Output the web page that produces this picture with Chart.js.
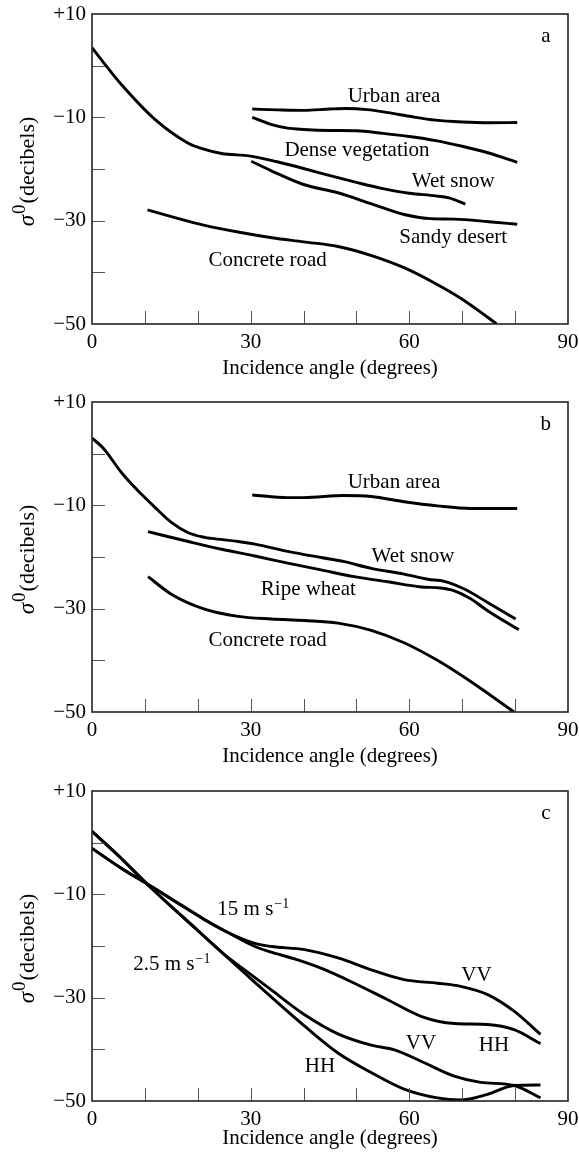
<!DOCTYPE html>
<html>
<head>
<meta charset="utf-8">
<title>Radar backscatter vs incidence angle</title>
<script src="https://cdn.jsdelivr.net/npm/chart.js@4.4.1/dist/chart.umd.min.js"></script>
<style>
    html, body { margin: 0; padding: 0; background: #fff; overflow: hidden; }
    .panel { position: absolute; left: 0; width: 579px; height: 388px; }
</style>
</head>
<body>
<div class="panel" style="top:0px"><canvas id="panelA"></canvas></div>
<div class="panel" style="top:388px"><canvas id="panelB"></canvas></div>
<div class="panel" style="top:777px"><canvas id="panelC"></canvas></div>

<script>
// Backscatter coefficient (dB) against incidence angle (degrees)

// ---- panel a ----
const aWetSnowAng  = [0, 2.5, 5.6, 11.9, 18.2, 21.3, 24.5, 30, 35, 40, 45, 50, 55, 60, 65, 67.5, 70.6];
const aWetSnowDb   = [3.5, 0.2, -3.7, -10.4, -15.0, -16.2, -17.0, -17.5, -18.6, -19.9, -21.3, -22.6, -23.8, -24.7, -25.2, -25.6, -26.8];
const aUrbanAng    = [30.3, 35, 40, 45, 48, 52, 56, 60, 65, 70, 75, 80.4];
const aUrbanDb     = [-8.4, -8.55, -8.65, -8.4, -8.3, -8.5, -9.1, -9.8, -10.55, -10.9, -11.05, -11.0];
const aVegAng      = [30.3, 34, 37, 40, 45, 50, 55, 60, 65, 70, 75, 80.4];
const aVegDb       = [-10.0, -11.4, -12.1, -12.35, -12.55, -12.6, -13.1, -13.7, -14.5, -15.6, -16.9, -18.7];
const aDesertAng   = [30.1, 34, 40, 46.5, 53, 59, 64, 68.5, 75, 80.4];
const aDesertDb    = [-18.5, -20.4, -23.0, -24.6, -26.8, -28.8, -29.6, -29.7, -30.2, -30.7];
const aRoadAng     = [10.5, 15, 21.3, 27.6, 34, 40, 46.5, 53, 59, 65, 70, 74.8, 76.5];
const aRoadDb      = [-27.9, -29.2, -30.9, -32.2, -33.3, -34.1, -35.0, -36.8, -39.1, -42.2, -45.2, -48.7, -50];

// ---- panel b ----
const bWetSnowAng  = [0, 2.1, 5.6, 8.7, 11.9, 15, 18.2, 21.3, 22.6, 27.6, 30.8, 37, 43.3, 47.7, 52.8, 59, 63.5, 66.6, 70.4, 74.8, 80.1];
const bWetSnowDb   = [3.0, 1.1, -3.7, -7.2, -10.4, -13.3, -15.3, -16.2, -16.4, -17.0, -17.5, -18.9, -20.1, -20.9, -22.2, -23.3, -24.3, -24.7, -26.2, -28.8, -32.0];
const bWheatAng    = [10.6, 18.2, 24.5, 30.8, 37, 43.3, 49.6, 55.9, 62.2, 65.9, 68.4, 71.6, 74.8, 80.7];
const bWheatDb     = [-15.1, -17.0, -18.5, -19.8, -21.2, -22.5, -23.8, -24.8, -25.8, -26.0, -26.5, -28.1, -30.4, -34.1];
const bUrbanAng    = [30.3, 37, 40, 47.7, 52.8, 59, 65.3, 71.6, 80.4];
const bUrbanDb     = [-8.0, -8.5, -8.5, -8.1, -8.3, -9.3, -10.1, -10.6, -10.6];
const bRoadAng     = [10.6, 15, 21.3, 27.6, 33.9, 40.2, 46.5, 52.8, 59, 65.3, 71.6, 79.8];
const bRoadDb      = [-23.8, -27.2, -30.1, -31.5, -32.0, -32.3, -32.8, -34.2, -36.6, -40.0, -44.1, -50.0];

// ---- panel c (sea surface, two wind speeds) ----
const cHighVVAng   = [0, 5.6, 10.3, 15, 21.3, 25.7, 30.8, 33.9, 40.2, 46.5, 52.8, 59, 65.3, 69.7, 74.8, 79.8, 84.8];
const cHighVVDb    = [-1.1, -5.0, -7.9, -10.9, -14.9, -17.4, -19.5, -20.1, -20.7, -22.3, -24.6, -26.5, -27.2, -27.8, -29.4, -32.6, -37.1];
const cHighHHAng   = [0, 5.6, 10.3, 15, 21.3, 25.7, 30.8, 33.9, 38.3, 43.3, 49.6, 55.9, 62.2, 68.5, 74.8, 79.8, 84.8];
const cHighHHDb    = [-1.1, -5.0, -7.9, -10.9, -14.9, -17.4, -20.1, -21.2, -22.5, -24.3, -27.2, -30.4, -33.6, -35.0, -35.2, -36.2, -38.9];
const cLowVVAng    = [0, 5.6, 10.3, 20, 25, 30, 33.9, 40.2, 46.5, 52.8, 57.2, 62.2, 68.5, 73.5, 79.8, 84.8];
const cLowVVDb     = [2.2, -3.1, -7.9, -17.0, -21.6, -25.5, -28.5, -33.3, -37.0, -39.2, -40.1, -42.3, -45.2, -46.4, -47.0, -49.4];
const cLowHHAng    = [0, 5.6, 10.3, 20, 30, 40.2, 46.5, 52.8, 59, 65.3, 69.7, 74.8, 79.8, 84.8];
const cLowHHDb     = [2.2, -3.1, -7.9, -17.0, -26.3, -35.5, -40.7, -44.5, -47.7, -49.4, -49.8, -48.7, -47.0, -46.9];

// curve labels, placed in axis units (angle, dB) at the text baseline
const notesA = [
    { text: 'Urban area', x: 57.1, y: -7.0 },
    { text: 'Dense vegetation', x: 50.1, y: -17.5 },
    { text: 'Wet snow', x: 68.3, y: -23.4 },
    { text: 'Sandy desert', x: 68.3, y: -34.4 },
    { text: 'Concrete road', x: 33.2, y: -38.7 }
];
const notesB = [
    { text: 'Urban area', x: 57.1, y: -6.7 },
    { text: 'Wet snow', x: 60.7, y: -21.0 },
    { text: 'Ripe wheat', x: 40.9, y: -27.3 },
    { text: 'Concrete road', x: 33.2, y: -37.3 }
];
const notesC = [
    { text: '15 m s', sup: '−1', x: 23.7, y: -14.0, align: 'left' },
    { text: '2.5 m s', sup: '−1', x: 7.8, y: -24.7, align: 'left' },
    { text: 'VV', x: 72.7, y: -26.7 },
    { text: 'HH', x: 76.0, y: -40.3 },
    { text: 'VV', x: 62.2, y: -40.0 },
    { text: 'HH', x: 43.1, y: -44.3 }
];

const SERIF = '"Liberation Serif", "Times New Roman", serif';
Chart.defaults.font.family = SERIF;
Chart.defaults.color = '#000';

function curve(angles, values) {
    return {
        data: angles.map((a, i) => ({ x: a, y: values[i] })),
        borderColor: '#000',
        borderWidth: 2.9,
        pointRadius: 0,
        fill: false,
        cubicInterpolationMode: 'monotone'
    };
}

// frame, inward tick marks, axis titles and curve labels
const panelDecor = {
    id: 'panelDecor',
    afterDatasetsDraw(chart, args, opts) {
        const { ctx, chartArea: a, scales: { x, y } } = chart;
        ctx.save();

        ctx.strokeStyle = '#555';
        ctx.lineWidth = 1;
        ctx.beginPath();
        for (let v = 10; v < 90; v += 10) {
            const px = Math.round(x.getPixelForValue(v)) + 0.5;
            ctx.moveTo(px, a.bottom);
            ctx.lineTo(px, a.bottom - 13);
        }
        for (let v = -40; v < 10; v += 10) {
            const py = Math.round(y.getPixelForValue(v)) + 0.5;
            ctx.moveTo(a.left, py);
            ctx.lineTo(a.left + 13, py);
        }
        ctx.stroke();

        ctx.strokeStyle = '#222';
        ctx.lineWidth = 1.6;
        ctx.strokeRect(a.left, a.top, a.right - a.left, a.bottom - a.top);

        ctx.fillStyle = '#000';
        ctx.textBaseline = 'alphabetic';

        // curve labels
        (opts.notes || []).forEach(n => {
            const px = x.getPixelForValue(n.x);
            const py = y.getPixelForValue(n.y);
            ctx.font = '21px ' + SERIF;
            const w = ctx.measureText(n.text).width;
            let supW = 0;
            if (n.sup) {
                ctx.font = '14px ' + SERIF;
                supW = ctx.measureText(n.sup).width;
            }
            const left = n.align === 'left' ? px : px - (w + supW) / 2;
            ctx.font = '21px ' + SERIF;
            ctx.textAlign = 'left';
            ctx.fillText(n.text, left, py);
            if (n.sup) {
                ctx.font = '14px ' + SERIF;
                ctx.fillText(n.sup, left + w + 1, py - 7);
            }
        });

        // panel letter
        ctx.font = '21px ' + SERIF;
        ctx.textAlign = 'center';
        ctx.fillText(opts.letter, x.getPixelForValue(85.8), y.getPixelForValue(4.5));

        // x title
        ctx.fillText('Incidence angle (degrees)', (a.left + a.right) / 2, a.bottom + opts.titleGap);

        // y title: sigma with superscript 0, rotated
        const parts = [
            { t: 'σ', font: 'italic 23px ' + SERIF, dy: 0 },
            { t: '0', font: '19px ' + SERIF, dy: -9 },
            { t: '(decibels)', font: '22px ' + SERIF, dy: 0 }
        ];
        let total = 0;
        parts.forEach(p => { ctx.font = p.font; p.w = ctx.measureText(p.t).width; total += p.w + 1; });
        ctx.translate(34, (a.top + a.bottom) / 2 + 2);
        ctx.rotate(-Math.PI / 2);
        ctx.textAlign = 'left';
        let cx = -total / 2;
        parts.forEach(p => {
            ctx.font = p.font;
            ctx.fillText(p.t, cx, p.dy);
            cx += p.w + 1;
        });

        ctx.restore();
    }
};

function makePanel(canvasId, datasets, notes, letter, titleGap) {
    const ctx = document.getElementById(canvasId).getContext('2d');
    return new Chart(ctx, {
        type: 'line',
        data: { datasets: datasets },
        options: {
            responsive: true,
            maintainAspectRatio: false,
            animation: false,
            devicePixelRatio: 1,
            layout: { padding: { top: 14, right: 11, bottom: 0, left: 0 } },
            plugins: {
                legend: { display: false },
                tooltip: { enabled: false },
                panelDecor: { notes: notes, letter: letter, titleGap: titleGap }
            },
            scales: {
                x: {
                    type: 'linear',
                    min: 0,
                    max: 90,
                    grid: { display: false, drawTicks: false },
                    border: { display: false },
                    ticks: {
                        stepSize: 10,
                        autoSkip: false,
                        maxRotation: 0,
                        padding: 6,
                        font: { size: 21 },
                        color: '#000',
                        callback: v => (v % 30 === 0 ? String(v) : '')
                    },
                    afterFit: s => { s.height = 64; s.paddingLeft = 0; s.paddingRight = 0; }
                },
                y: {
                    type: 'linear',
                    min: -50,
                    max: 10,
                    grid: { display: false, drawTicks: false },
                    border: { display: false },
                    ticks: {
                        stepSize: 10,
                        autoSkip: false,
                        padding: 6,
                        font: { size: 21 },
                        color: '#000',
                        callback: v => {
                            if ((v + 10) % 20 !== 0) return '';
                            if (v > 0) return '+' + v;
                            return '−' + Math.abs(v);
                        }
                    },
                    afterFit: s => { s.width = 92; s.paddingTop = 0; s.paddingBottom = 0; }
                }
            }
        },
        plugins: [panelDecor]
    });
}

makePanel('panelA', [
    curve(aWetSnowAng, aWetSnowDb),
    curve(aUrbanAng, aUrbanDb),
    curve(aVegAng, aVegDb),
    curve(aDesertAng, aDesertDb),
    curve(aRoadAng, aRoadDb)
], notesA, 'a', 50);

makePanel('panelB', [
    curve(bWetSnowAng, bWetSnowDb),
    curve(bWheatAng, bWheatDb),
    curve(bUrbanAng, bUrbanDb),
    curve(bRoadAng, bRoadDb)
], notesB, 'b', 50);

// the bottom panel sits closer to the page edge, so its title is tucked up
makePanel('panelC', [
    curve(cHighVVAng, cHighVVDb),
    curve(cHighHHAng, cHighHHDb),
    curve(cLowVVAng, cLowVVDb),
    curve(cLowHHAng, cLowHHDb)
], notesC, 'c', 43);
</script>
</body>
</html>
